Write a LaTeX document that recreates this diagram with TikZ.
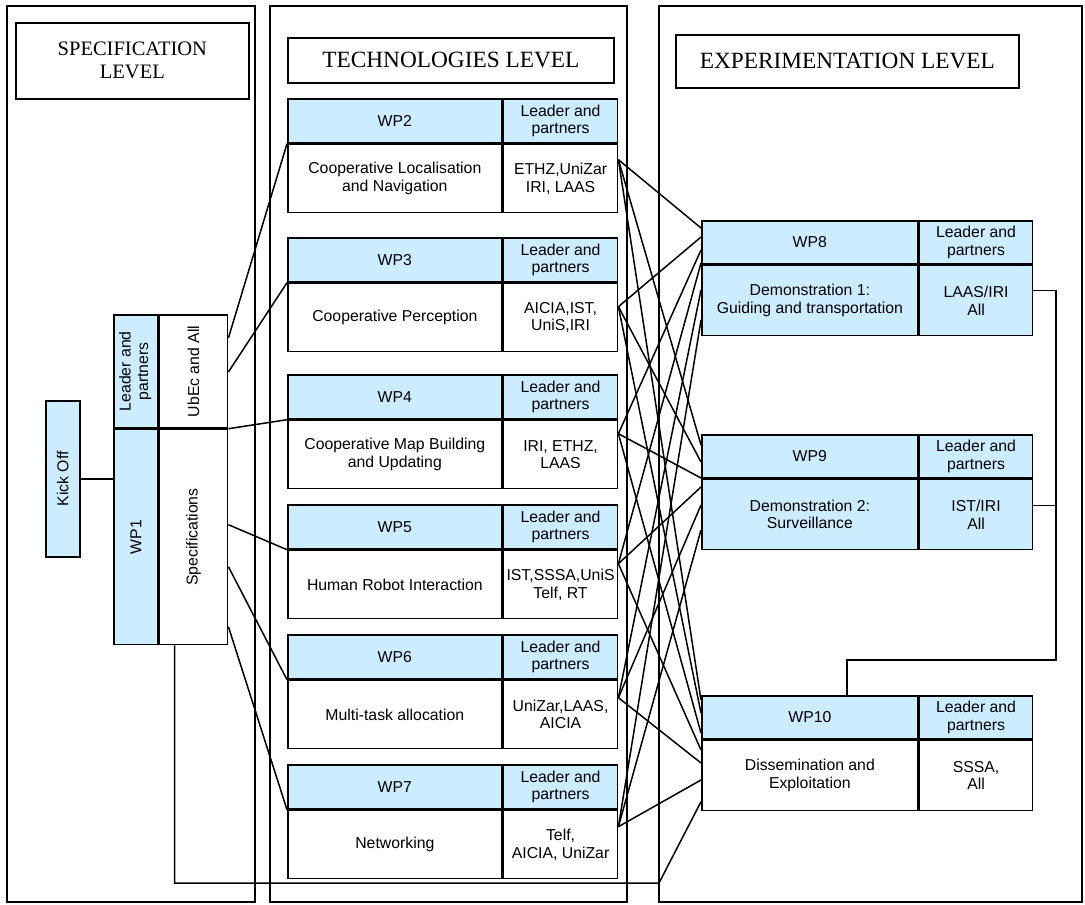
\documentclass[tikz,border=0pt]{standalone}
\usepackage{fontspec}
\setmainfont{Liberation Serif}
\setsansfont{Liberation Sans}
\usepackage{graphicx}
\usetikzlibrary{calc,positioning}
\definecolor{wpblue}{RGB}{204,236,255}
\tikzset{
  cell/.style={draw, line width=1.7pt, align=center, inner sep=1pt, anchor=north west,
    font=\sffamily\fontsize{15.8}{17.5}\selectfont},
  bluecell/.style={cell, fill=wpblue},
  level/.style={draw, line width=1.7pt, align=center, anchor=north west,
    font=\fontsize{23.3}{23}\selectfont},
  link/.style={line width=1.5pt},
}

\begin{document}
\begin{tikzpicture}[x=1pt,y=-1pt]
	\useasboundingbox (0,0) rectangle (1085,905);
	% the three levels
	\draw[line width=1.7pt] (7,6) rectangle (255,902);
	\draw[line width=1.7pt] (270,6) rectangle (627,902);
	\draw[line width=1.7pt] (659,6) rectangle (1082,902);
	\node[level, minimum width=233pt, minimum height=76pt, font=\fontsize{20.5}{23}\selectfont] (speclvl) at (15,22) {SPECIFICATION\\LEVEL};
	\node[level, minimum width=326pt, minimum height=45pt] (techlvl) at (287,37) {TECHNOLOGIES LEVEL};
	\node[level, minimum width=343pt, minimum height=53pt] (explvl) at (675,34) {EXPERIMENTATION LEVEL};

	% specification level
	\node[bluecell, minimum width=34pt, minimum height=156pt] (kick) at (45,400) {\rotatebox{90}{Kick Off}};
	\node[bluecell, minimum width=44pt, minimum height=113pt] (lead1) at (113,314) {\rotatebox{90}{\begin{tabular}{@{}c@{}}Leader and\\partners\end{tabular}}};
	\node[cell, minimum width=68pt, minimum height=113pt] (ub) at (lead1.north east) {\rotatebox{90}{UbEc and All}};
	\node[bluecell, minimum width=44pt, minimum height=215pt] (wp1) at (lead1.south west) {\rotatebox{90}{WP1}};
	\node[cell, minimum width=68pt, minimum height=215pt] (spec) at (wp1.north east) {\rotatebox{90}{Specifications}};
	\draw[link] (kick.east) -- (kick.east -| wp1.west);

	% technologies level
	\foreach \n/\yy/\wtask/\wwho in {
		2/98/{Cooperative Localisation\\and Navigation}/{ETHZ,UniZar\\IRI, LAAS},
		3/237/{Cooperative Perception}/{AICIA,IST,\\UniS,IRI},
		4/374/{Cooperative Map Building\\and Updating}/{IRI, ETHZ,\\LAAS},
		5/504/{Human Robot Interaction}/{IST,SSSA,UniS\\Telf, RT},
		6/634/{Multi-task allocation}/{UniZar,LAAS,\\AICIA},
		7/764/{Networking}/{Telf,\\AICIA, UniZar}}{
		\node[bluecell, minimum width=214pt, minimum height=44pt] (wp\n) at (287,\yy) {WP\n};
		\node[bluecell, minimum width=114pt, minimum height=44pt] (lead\n) at (wp\n.north east) {Leader and\\partners};
		\node[cell, minimum width=214pt, minimum height=68pt] (task\n) at (wp\n.south west) {\wtask};
		\node[cell, minimum width=114pt, minimum height=68pt] (who\n) at (task\n.north east) {\wwho};
	}

	% experimentation level
	\node[bluecell, minimum width=216pt, minimum height=43pt] (wp8) at (701,220) {WP8};
	\node[bluecell, minimum width=113pt, minimum height=43pt] (lead8) at (wp8.north east) {Leader and\\partners};
	\node[bluecell, minimum width=216pt, minimum height=70pt] (task8) at (wp8.south west) {Demonstration 1:\\Guiding and transportation};
	\node[bluecell, minimum width=113pt, minimum height=70pt] (who8) at (task8.north east) {LAAS/IRI\\All};

	\node[bluecell, minimum width=216pt, minimum height=43pt] (wp9) at (701,434) {WP9};
	\node[bluecell, minimum width=113pt, minimum height=43pt] (lead9) at (wp9.north east) {Leader and\\partners};
	\node[bluecell, minimum width=216pt, minimum height=70pt] (task9) at (wp9.south west) {Demonstration 2:\\Surveillance};
	\node[bluecell, minimum width=113pt, minimum height=70pt] (who9) at (task9.north east) {IST/IRI\\All};

	\node[bluecell, minimum width=216pt, minimum height=43pt] (wp10) at (701,695) {WP10};
	\node[bluecell, minimum width=113pt, minimum height=43pt] (lead10) at (wp10.north east) {Leader and\\partners};
	\node[cell, minimum width=216pt, minimum height=70pt] (task10) at (wp10.south west) {Dissemination and\\Exploitation};
	\node[cell, minimum width=113pt, minimum height=70pt] (who10) at (task10.north east) {SSSA,\\All};

	% WP1 to the technologies
	\draw[link] ($(ub.north east)+(0,24)$) -- (task2.north west);
	\draw[link] ($(ub.north east)+(0,58)$) -- (task3.north west);
	\draw[link] (ub.south east) -- (task4.north west);
	\draw[link] ($(spec.north east)+(0,96)$) -- (task5.north west);
	\draw[link] ($(spec.north east)+(0,138)$) -- (task6.north west);
	\draw[link] ($(spec.north east)+(0,198)$) -- (task7.north west);

	% technologies to the demonstrations
	\foreach \s/\ds/\da/\db/\dc in {2/16/8/11/5, 3/24/17/28/18, 4/14/30/44/38,
		5/14/43/53/55, 6/18/70/71/68, 7/17/100/96/85}{
		\draw[link] ($(who\s.north east)+(0,\ds)$) -- ($(wp8.north west)+(0,\da)$);
		\draw[link] ($(who\s.north east)+(0,\ds)$) -- ($(wp9.north west)+(0,\db)$);
		\draw[link] ($(who\s.north east)+(0,\ds)$) -- ($(wp10.north west)+(0,\dc)$);
	}

	% WP1 to WP10 along the bottom
	\coordinate (busend) at (659,883);
	\draw[link] ($(spec.south west)+(16,0)$) |- (busend) -- ($(task10.north west)+(0,62)$);

	% demonstrations to WP10
	\coordinate (rbus) at (1056,660);
	\draw[link] ($(who8.north east)+(0,26)$) -| (rbus) -| ($(wp10.north west)+(146,0)$);
	\coordinate (w9) at ($(who9.north east)+(0,27)$);
	\draw[link] (w9) -- (w9 -| rbus);
\end{tikzpicture}
\end{document}
